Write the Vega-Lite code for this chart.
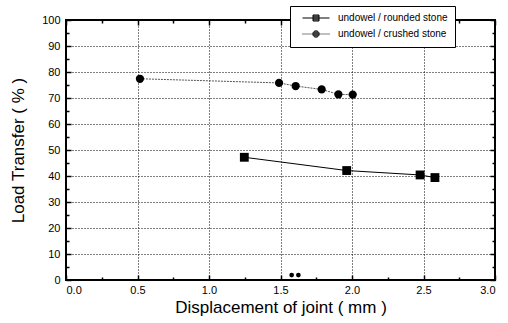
{
  "$schema": "https://vega.github.io/schema/vega-lite/v6.json",
  "width": 429,
  "height": 260,
  "autosize": {"type": "none"},
  "padding": {"left": 66, "top": 20, "right": 13, "bottom": 43},
  "background": "white",
  "config": {
    "view": {"stroke": "black", "strokeWidth": 2},
    "font": "Liberation Sans",
    "axis": {
      "domain": false,
      "tickColor": "black",
      "tickWidth": 1.5,
      "labelColor": "black",
      "labelFont": "Liberation Sans",
      "labelFontSize": 11,
      "titleFont": "Liberation Sans",
      "titleFontSize": 17,
      "titleFontWeight": "normal",
      "titleColor": "black",
      "gridColor": "black",
      "gridDash": [1, 2],
      "gridOpacity": 1,
      "gridWidth": 1
    }
  },
  "datasets": {
    "main": [
      {"series": "undowel / rounded stone", "disp": 1.247, "lt": 47.2},
      {"series": "undowel / rounded stone", "disp": 1.963, "lt": 42.1},
      {"series": "undowel / rounded stone", "disp": 2.476, "lt": 40.4},
      {"series": "undowel / rounded stone", "disp": 2.58, "lt": 39.4},
      {"series": "undowel / crushed stone", "disp": 0.517, "lt": 77.4},
      {"series": "undowel / crushed stone", "disp": 1.49, "lt": 75.8},
      {"series": "undowel / crushed stone", "disp": 1.606, "lt": 74.6},
      {"series": "undowel / crushed stone", "disp": 1.788, "lt": 73.3},
      {"series": "undowel / crushed stone", "disp": 1.905, "lt": 71.4},
      {"series": "undowel / crushed stone", "disp": 2.005, "lt": 71.3}
    ],
    "stray": [
      {"disp": 1.578, "lt": 1.9},
      {"disp": 1.625, "lt": 1.9}
    ]
  },
  "resolve": {"axis": {"x": "independent", "y": "independent"}},
  "layer": [
    {
      "data": {"name": "main"},
      "transform": [{"filter": "datum.series === 'undowel / rounded stone'"}],
      "mark": {"type": "line", "color": "black", "strokeWidth": 1},
      "encoding": {
        "x": {"field": "disp", "type": "quantitative", "scale": {"domain": [0, 3], "nice": false, "zero": false},
          "axis": {"orient": "bottom", "values": [0, 0.5, 1, 1.5, 2, 2.5, 3], "format": ".1f", "tickSize": -5, "labelPadding": 9, "grid": true, "title": "Displacement  of  joint  ( mm )", "titlePadding": 4}},
        "y": {"field": "lt", "type": "quantitative", "scale": {"domain": [0, 100], "nice": false},
          "axis": {"orient": "left", "values": [0, 10, 20, 30, 40, 50, 60, 70, 80, 90, 100], "tickSize": -5, "labelPadding": 11, "grid": true, "title": "Load  Transfer  ( % )", "titlePadding": 14}}
      }
    },
    {
      "data": {"name": "main"},
      "transform": [{"filter": "datum.series === 'undowel / crushed stone'"}],
      "mark": {"type": "line", "color": "#555555", "strokeWidth": 1, "strokeDash": [2, 1]},
      "encoding": {
        "x": {"field": "disp", "type": "quantitative",
          "axis": {"orient": "top", "values": [0, 0.5, 1, 1.5, 2, 2.5, 3], "tickSize": -5, "labels": false, "grid": false, "title": null}},
        "y": {"field": "lt", "type": "quantitative",
          "axis": {"orient": "right", "values": [0, 10, 20, 30, 40, 50, 60, 70, 80, 90, 100], "tickSize": -5, "labels": false, "grid": false, "title": null}}
      }
    },
    {
      "data": {"name": "main"},
      "transform": [{"filter": "datum.series === 'undowel / rounded stone'"}],
      "mark": {"type": "point", "shape": "square", "filled": true, "color": "black", "opacity": 1, "size": 78},
      "encoding": {
        "x": {"field": "disp", "type": "quantitative",
          "axis": {"orient": "bottom", "values": [0.25, 0.75, 1.25, 1.75, 2.25, 2.75], "tickSize": -3, "labels": false, "grid": false, "title": null}},
        "y": {"field": "lt", "type": "quantitative",
          "axis": {"orient": "left", "values": [5, 15, 25, 35, 45, 55, 65, 75, 85, 95], "tickSize": -3, "labels": false, "grid": false, "title": null}}
      }
    },
    {
      "data": {"name": "main"},
      "transform": [{"filter": "datum.series === 'undowel / crushed stone'"}],
      "mark": {"type": "point", "shape": "circle", "filled": true, "color": "black", "opacity": 1, "size": 68},
      "encoding": {
        "x": {"field": "disp", "type": "quantitative",
          "axis": {"orient": "top", "values": [0.25, 0.75, 1.25, 1.75, 2.25, 2.75], "tickSize": -3, "labels": false, "grid": false, "title": null}},
        "y": {"field": "lt", "type": "quantitative",
          "axis": {"orient": "right", "values": [5, 15, 25, 35, 45, 55, 65, 75, 85, 95], "tickSize": -3, "labels": false, "grid": false, "title": null}}
      }
    },
    {
      "data": {"name": "stray"},
      "mark": {"type": "circle", "color": "black", "size": 22, "opacity": 1},
      "encoding": {
        "x": {"field": "disp", "type": "quantitative", "axis": null},
        "y": {"field": "lt", "type": "quantitative", "axis": null}
      }
    },
    {
      "data": {"name": "main"},
      "mark": {"type": "point", "filled": false, "color": "black", "opacity": 0},
      "encoding": {
        "x": {"field": "disp", "type": "quantitative", "axis": null},
        "y": {"field": "lt", "type": "quantitative", "axis": null},
        "shape": {"field": "series", "type": "nominal",
          "scale": {"domain": ["undowel / rounded stone", "undowel / crushed stone"],
            "range": ["M0.125,0H6.875M2.75,-0.75H4.25V0.75H2.75ZM2.75,-0.5H4.25M2.75,-0.25H4.25M2.75,0.25H4.25M2.75,0.5H4.25", "M0.125,0h0.25M0.625,0h0.25M1.125,0h0.25M1.625,0h0.25M2.125,0h0.25M4.3,0A0.8,0.8 0 1 1 2.7,0A0.8,0.8 0 1 1 4.3,0ZM3,-0.5H4M2.8,-0.25H4.2M2.7,0H4.3M2.8,0.25H4.2M3,0.5H4M4.625,0h0.25M5.125,0h0.25M5.625,0h0.25M6.125,0h0.25M6.625,0h0.25"]},
          "legend": {
            "title": null,
            "orient": "none",
            "legendX": 224,
            "legendY": -14,
            "fillColor": "white",
            "strokeColor": "black",
            "padding": 7,
            "labelFont": "Liberation Sans",
            "labelFontSize": 10,
            "labelColor": "black",
            "labelOffset": 31,
            "rowPadding": 5,
            "symbolSize": 64,
            "symbolStrokeColor": "black",
            "symbolStrokeWidth": 1,
            "symbolOpacity": 1
          }}
      }
    }
  ]
}
